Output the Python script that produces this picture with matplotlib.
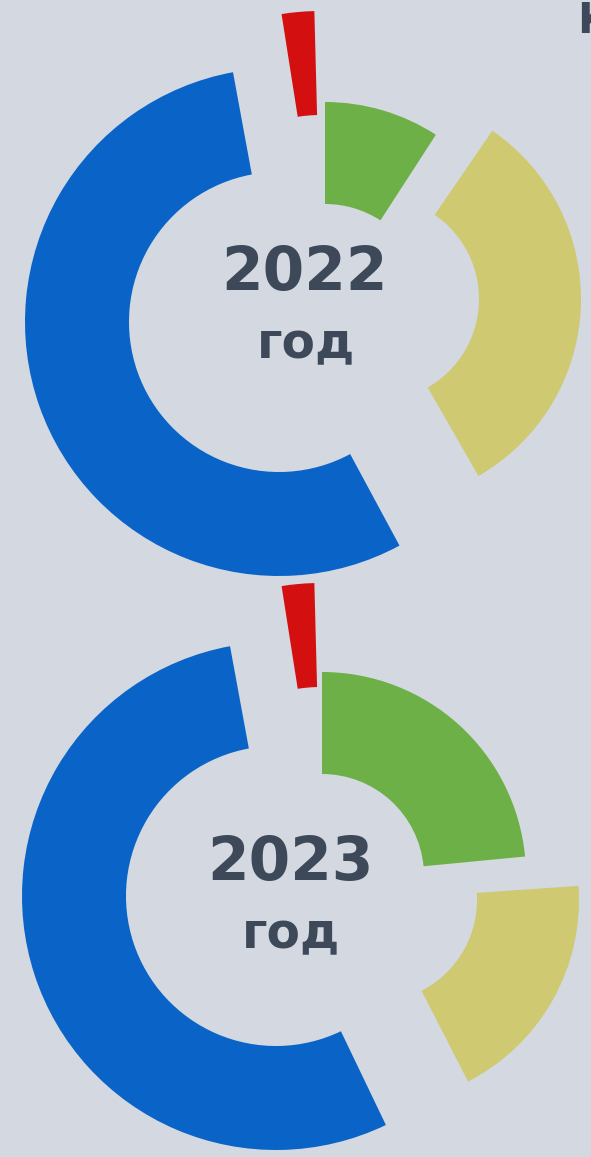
import matplotlib
matplotlib.use("Agg")
import matplotlib.pyplot as plt
from matplotlib.patches import Wedge

# ---------------- data ----------------
categories = ["green", "yellow", "blue", "red"]
years = ["2022", "2023"]
values_2022 = [9.3, 32.7, 55.9, 2.1]
values_2023 = [23.9, 18.9, 55.2, 2.1]
year_word = "год"

# ---------------- style ----------------
W, H = 591, 1157
bg = "#d4d9e1"
colors = ["#6db047", "#cfc972", "#0a64c8", "#d30f10"]
text_color = "#3d4859"
pad_deg = 1.5
outer_r = [204, 204, 254, 254]
ring_w = [102, 102, 104, 104]
# chart origins (pixel coords, y down) and per-slice displacement of the slices
origins = [(279, 322), (276, 896)]
shifts = [
    [(46, -16), (98, -23), (0, 0), (42, -57)],
    [(46, -20), (99, 4), (0, 0), (45, -59)],
]
label_pos = [((305, 290), (306, 358)), ((290, 880), (291, 948))]

fig = plt.figure(figsize=(W / 100, H / 100), dpi=100, facecolor=bg)
ax = fig.add_axes([0, 0, 1, 1])
ax.set_xlim(0, W)
ax.set_ylim(0, H)
ax.set_facecolor(bg)
ax.axis("off")


def Y(y):
    return H - y


for k, vals in enumerate([values_2022, values_2023]):
    total = sum(vals)
    avail = 360 - pad_deg * len(vals)
    start = 90.0
    ox, oy = origins[k]
    for i, v in enumerate(vals):
        ext = v / total * avail
        t2 = start
        t1 = start - ext
        dx, dy = shifts[k][i]
        ax.add_patch(Wedge((ox + dx, Y(oy + dy)), outer_r[i], t1, t2,
                           width=ring_w[i], facecolor=colors[i],
                           edgecolor="none"))
        start = t1 - pad_deg
    (yx, yy), (wx, wy) = label_pos[k]
    ax.text(yx, Y(yy), years[k], ha="center", va="baseline",
            fontsize=43, fontweight="bold", color=text_color,
            family="DejaVu Sans")
    ax.text(wx, Y(wy), year_word, ha="center", va="baseline",
            fontsize=35, fontweight="bold", color=text_color,
            family="DejaVu Sans")

# clipped heading letter at the top-right edge
ax.text(577, Y(33), "К", ha="left", va="baseline", fontsize=30,
        fontweight="bold", color=text_color, family="DejaVu Sans")

fig.savefig("out.png", dpi=100, facecolor=bg)
